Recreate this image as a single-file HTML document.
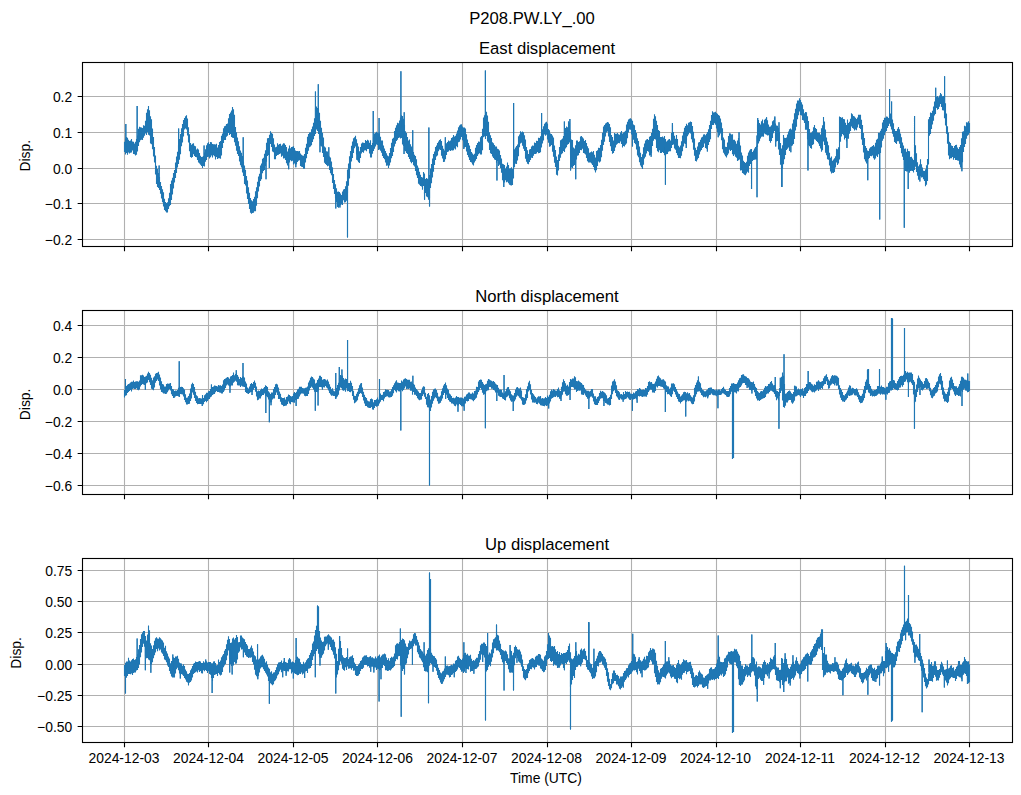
<!DOCTYPE html>
<html lang="en"><head><meta charset="utf-8"><title>P208.PW.LY_.00</title>
<style>html,body{margin:0;padding:0;background:#fff;overflow:hidden;width:1021px;height:795px;font-family:"Liberation Sans",sans-serif}svg{display:block}</style>
</head><body>
<svg width="1021" height="795" viewBox="0 0 1021 795">
<rect width="1021" height="795" fill="#fff"/>
<path d="M124.5 62.5V246.5M208.5 62.5V246.5M293.5 62.5V246.5M377.5 62.5V246.5M462.5 62.5V246.5M547.5 62.5V246.5M631.5 62.5V246.5M716.5 62.5V246.5M800.5 62.5V246.5M885.5 62.5V246.5M969.5 62.5V246.5M82.5 239.5H1012.5M82.5 203.5H1012.5M82.5 168.5H1012.5M82.5 132.5H1012.5M82.5 96.5H1012.5" stroke="#b0b0b0" stroke-width="1.111" fill="none"/>
<path d="M124.5 141.8V151.9M125.5 138.4V154.4M126.5 137.0V152.9M127.5 137.7V154.8M128.5 139.8V152.5M129.5 140.9V153.6M130.5 140.6V152.7M131.5 139.0V152.4M132.5 141.5V150.6M133.5 141.7V154.0M134.5 143.4V154.3M135.5 141.8V155.4M136.5 138.9V154.8M137.5 135.4V151.4M138.5 128.8V146.0M139.5 126.8V142.2M140.5 127.3V140.2M141.5 127.6V139.8M142.5 128.0V140.0M143.5 125.2V137.7M144.5 125.7V135.7M145.5 120.7V133.4M146.5 112.8V135.0M147.5 109.2V132.2M148.5 105.9V134.8M149.5 110.3V135.5M150.5 116.2V143.6M151.5 119.2V144.3M152.5 128.5V149.3M153.5 137.1V156.6M154.5 146.9V162.6M155.5 155.4V174.4M156.5 165.7V183.9M157.5 168.9V186.9M158.5 173.0V188.1M159.5 176.9V190.1M160.5 182.0V193.8M161.5 186.0V198.5M162.5 189.2V202.3M163.5 192.3V206.4M164.5 198.8V209.9M165.5 202.0V211.3M166.5 203.1V212.6M167.5 202.2V212.6M168.5 198.3V209.1M169.5 192.7V206.3M170.5 184.1V205.1M171.5 180.5V199.9M172.5 177.7V194.5M173.5 173.0V188.6M174.5 170.1V182.4M175.5 162.5V178.0M176.5 156.6V172.9M177.5 151.8V167.5M178.5 145.3V163.9M179.5 139.1V159.7M180.5 133.9V154.3M181.5 128.2V146.2M182.5 124.0V142.6M183.5 119.9V136.6M184.5 117.9V129.5M185.5 116.3V128.5M186.5 115.2V129.5M187.5 118.6V135.6M188.5 127.3V142.4M189.5 134.3V151.2M190.5 143.0V157.0M191.5 144.7V157.7M192.5 143.7V157.1M193.5 143.2V154.2M194.5 145.8V156.0M195.5 146.2V156.9M196.5 149.5V157.3M197.5 148.6V160.0M198.5 149.4V162.5M199.5 152.9V163.5M200.5 155.8V164.7M201.5 157.1V166.0M202.5 156.8V167.9M203.5 155.9V166.1M204.5 152.5V166.4M205.5 149.3V161.8M206.5 145.3V160.1M207.5 143.2V157.1M208.5 142.2V156.8M209.5 144.0V158.4M210.5 142.0V157.2M211.5 142.3V155.6M212.5 144.0V157.4M213.5 144.3V155.2M214.5 144.2V156.2M215.5 144.6V159.5M216.5 143.8V157.0M217.5 147.4V158.9M218.5 145.0V158.3M219.5 142.0V158.3M220.5 141.1V158.7M221.5 135.7V155.4M222.5 133.5V148.0M223.5 128.3V143.1M224.5 126.2V140.0M225.5 125.8V140.0M226.5 123.9V136.7M227.5 123.4V135.8M228.5 118.3V133.0M229.5 114.1V135.1M230.5 112.6V134.0M231.5 110.6V137.1M232.5 106.9V137.8M233.5 109.2V137.9M234.5 114.7V142.3M235.5 127.1V145.8M236.5 132.3V150.7M237.5 137.6V153.9M238.5 141.2V155.9M239.5 146.2V161.6M240.5 150.5V165.2M241.5 152.7V167.5M242.5 156.1V172.4M243.5 161.6V176.0M244.5 165.6V184.1M245.5 169.7V185.6M246.5 176.1V193.6M247.5 180.5V199.0M248.5 187.3V204.1M249.5 192.7V209.0M250.5 197.9V212.8M251.5 200.2V213.8M252.5 201.2V213.0M253.5 199.0V212.8M254.5 196.8V211.2M255.5 191.3V211.2M256.5 187.2V205.8M257.5 181.7V198.3M258.5 176.5V191.5M259.5 173.7V186.5M260.5 165.6V181.1M261.5 163.4V179.3M262.5 158.7V173.3M263.5 157.8V171.1M264.5 153.7V169.9M265.5 150.2V165.9M266.5 142.7V161.7M267.5 138.2V156.1M268.5 138.1V154.9M269.5 134.7V149.4M270.5 131.2V143.9M271.5 133.0V147.1M272.5 133.8V151.6M273.5 138.3V152.3M274.5 144.6V159.2M275.5 147.3V159.3M276.5 146.7V156.1M277.5 143.3V155.0M278.5 144.7V154.7M279.5 144.1V153.9M280.5 143.8V153.6M281.5 145.7V156.8M282.5 144.4V155.8M283.5 143.3V158.5M284.5 143.6V158.3M285.5 145.0V159.9M286.5 147.0V163.3M287.5 151.5V165.5M288.5 148.4V162.8M289.5 145.4V162.5M290.5 148.3V160.2M291.5 147.1V161.3M292.5 146.7V160.7M293.5 146.2V164.4M294.5 147.9V163.6M295.5 150.6V164.7M296.5 151.1V164.3M297.5 151.1V162.1M298.5 151.2V160.7M299.5 151.1V160.3M300.5 153.4V165.9M301.5 154.7V166.8M302.5 155.4V167.0M303.5 155.7V168.7M304.5 154.0V168.8M305.5 147.8V162.4M306.5 143.8V158.3M307.5 136.8V154.0M308.5 134.0V150.7M309.5 132.4V147.3M310.5 132.2V146.4M311.5 129.2V145.2M312.5 126.6V141.9M313.5 122.8V139.3M314.5 118.3V136.0M315.5 107.9V134.1M316.5 106.5V129.5M317.5 107.9V130.9M318.5 108.4V134.1M319.5 112.7V138.8M320.5 120.7V145.7M321.5 127.7V146.6M322.5 132.8V152.9M323.5 137.4V157.0M324.5 146.4V162.8M325.5 147.6V163.9M326.5 151.3V165.1M327.5 151.5V166.2M328.5 155.3V165.8M329.5 156.4V169.9M330.5 157.6V173.3M331.5 161.5V175.3M332.5 167.2V183.1M333.5 174.0V189.1M334.5 180.1V193.9M335.5 184.3V198.4M336.5 188.3V202.2M337.5 191.8V206.9M338.5 191.5V207.7M339.5 191.9V206.6M340.5 193.4V205.3M341.5 194.9V204.4M342.5 191.4V205.1M343.5 189.5V200.3M344.5 189.0V202.5M345.5 186.2V202.3M346.5 181.3V200.7M347.5 169.4V193.1M348.5 163.5V185.7M349.5 156.3V178.4M350.5 150.9V168.9M351.5 145.8V161.5M352.5 141.5V157.9M353.5 138.2V153.1M354.5 137.3V148.2M355.5 135.7V146.6M356.5 139.3V154.4M357.5 143.3V160.4M358.5 146.4V161.9M359.5 151.2V162.4M360.5 147.0V157.9M361.5 143.6V153.4M362.5 142.6V151.9M363.5 142.7V152.8M364.5 143.1V150.6M365.5 139.9V150.3M366.5 141.0V151.3M367.5 139.8V149.0M368.5 140.4V148.9M369.5 142.8V153.5M370.5 140.2V157.6M371.5 145.1V157.5M372.5 143.1V153.7M373.5 136.8V151.1M374.5 133.5V148.7M375.5 132.7V146.6M376.5 131.8V144.6M377.5 132.5V145.1M378.5 133.2V150.0M379.5 133.2V149.6M380.5 136.7V150.7M381.5 140.5V152.8M382.5 140.6V156.1M383.5 145.4V158.0M384.5 148.6V159.3M385.5 150.9V162.6M386.5 153.3V165.8M387.5 155.6V165.5M388.5 156.3V168.0M389.5 153.0V165.6M390.5 147.9V162.6M391.5 142.7V158.2M392.5 138.8V155.9M393.5 137.7V151.9M394.5 131.0V146.6M395.5 127.8V143.7M396.5 125.3V141.1M397.5 122.8V139.7M398.5 123.3V137.9M399.5 120.5V137.6M400.5 117.5V138.5M401.5 115.3V138.1M402.5 116.1V144.5M403.5 118.7V146.1M404.5 124.8V150.6M405.5 131.2V151.3M406.5 133.0V153.1M407.5 137.1V154.0M408.5 140.5V157.0M409.5 139.5V158.9M410.5 144.3V161.8M411.5 146.5V163.2M412.5 149.6V161.9M413.5 152.1V165.3M414.5 154.7V166.4M415.5 155.9V171.1M416.5 159.2V175.2M417.5 165.5V178.1M418.5 167.8V183.7M419.5 171.7V184.8M420.5 174.7V186.1M421.5 177.1V186.5M422.5 177.4V189.8M423.5 172.0V186.1M424.5 173.6V194.6M425.5 179.1V192.9M426.5 178.1V196.4M427.5 178.7V197.2M428.5 179.5V199.8M429.5 174.9V197.9M430.5 168.7V188.1M431.5 163.9V183.2M432.5 158.5V177.6M433.5 153.9V171.8M434.5 151.4V165.1M435.5 147.1V160.0M436.5 145.5V156.4M437.5 143.0V155.5M438.5 141.4V151.3M439.5 139.9V149.5M440.5 139.3V150.0M441.5 141.0V155.7M442.5 145.8V158.4M443.5 148.8V161.9M444.5 150.6V161.7M445.5 143.3V159.2M446.5 143.3V154.9M447.5 142.1V152.0M448.5 140.6V151.5M449.5 141.2V150.2M450.5 140.4V151.1M451.5 138.1V150.2M452.5 137.3V150.4M453.5 134.9V150.2M454.5 136.5V148.4M455.5 135.7V149.6M456.5 133.4V146.3M457.5 130.5V147.2M458.5 127.2V142.2M459.5 125.4V141.8M460.5 124.4V139.4M461.5 124.2V137.0M462.5 126.4V140.2M463.5 127.4V141.6M464.5 127.5V147.5M465.5 128.5V146.9M466.5 134.2V151.4M467.5 139.5V155.0M468.5 143.1V157.3M469.5 145.4V160.0M470.5 148.9V162.0M471.5 152.0V162.5M472.5 153.4V164.4M473.5 154.8V165.6M474.5 153.7V162.4M475.5 147.8V160.7M476.5 144.9V159.0M477.5 142.9V156.0M478.5 141.6V154.2M479.5 141.8V153.3M480.5 137.2V154.4M481.5 136.0V154.5M482.5 128.8V150.2M483.5 117.6V137.2M484.5 115.2V136.5M485.5 113.5V138.9M486.5 111.7V136.0M487.5 115.6V141.4M488.5 121.8V142.7M489.5 132.2V150.0M490.5 135.3V153.2M491.5 138.0V154.1M492.5 142.2V156.5M493.5 143.3V158.0M494.5 144.9V159.5M495.5 146.6V160.0M496.5 146.4V162.7M497.5 148.7V160.9M498.5 149.2V166.0M499.5 150.5V164.8M500.5 154.9V167.9M501.5 158.5V172.7M502.5 163.7V180.2M503.5 164.3V182.5M504.5 165.1V182.6M505.5 168.5V180.3M506.5 166.5V182.3M507.5 162.5V181.8M508.5 164.9V183.2M509.5 168.4V184.8M510.5 168.2V185.3M511.5 167.3V185.5M512.5 168.9V185.0M513.5 158.7V178.5M514.5 149.2V167.0M515.5 147.4V163.7M516.5 146.1V164.0M517.5 144.4V160.5M518.5 136.2V156.3M519.5 134.6V147.2M520.5 131.2V143.5M521.5 132.3V142.7M522.5 131.4V145.8M523.5 132.3V148.8M524.5 135.3V151.0M525.5 139.4V158.8M526.5 147.1V161.8M527.5 150.3V163.7M528.5 154.0V164.2M529.5 149.4V161.9M530.5 149.0V159.9M531.5 146.5V157.7M532.5 145.5V157.9M533.5 145.7V155.8M534.5 142.6V153.9M535.5 143.1V153.9M536.5 140.7V153.5M537.5 141.0V151.9M538.5 137.8V153.3M539.5 138.0V153.1M540.5 136.2V152.3M541.5 133.0V147.6M542.5 129.3V143.5M543.5 126.2V140.6M544.5 123.7V134.6M545.5 122.4V135.7M546.5 121.8V134.7M547.5 123.6V139.4M548.5 129.1V142.7M549.5 130.2V146.7M550.5 133.5V146.2M551.5 134.1V145.0M552.5 135.6V151.7M553.5 137.4V156.8M554.5 145.4V162.8M555.5 149.9V166.9M556.5 156.5V174.8M557.5 159.9V175.4M558.5 154.5V170.4M559.5 147.0V161.0M560.5 140.3V157.8M561.5 139.6V154.3M562.5 138.6V153.2M563.5 136.0V151.1M564.5 136.0V152.1M565.5 128.1V148.6M566.5 126.6V147.2M567.5 127.3V144.8M568.5 121.3V144.0M569.5 122.5V142.5M570.5 131.2V154.7M571.5 139.6V167.6M572.5 140.0V168.1M573.5 147.5V166.0M574.5 148.5V165.0M575.5 145.2V163.6M576.5 140.5V159.6M577.5 140.5V155.8M578.5 142.1V155.3M579.5 141.3V153.1M580.5 136.5V150.1M581.5 135.9V150.2M582.5 137.3V148.7M583.5 138.5V152.9M584.5 141.1V153.5M585.5 139.9V154.4M586.5 143.1V157.9M587.5 146.2V161.2M588.5 148.3V162.6M589.5 152.8V162.4M590.5 152.3V162.4M591.5 151.5V163.6M592.5 152.2V165.0M593.5 151.1V167.1M594.5 154.8V170.3M595.5 157.4V172.5M596.5 151.1V170.3M597.5 150.2V166.1M598.5 147.7V161.5M599.5 148.1V162.6M600.5 145.1V161.4M601.5 139.7V157.3M602.5 132.7V150.7M603.5 126.6V145.1M604.5 125.0V141.8M605.5 123.6V136.6M606.5 122.7V132.5M607.5 122.1V131.4M608.5 122.6V136.4M609.5 123.9V142.1M610.5 127.2V146.2M611.5 135.1V150.9M612.5 137.0V153.8M613.5 140.5V153.1M614.5 133.0V151.1M615.5 133.8V147.6M616.5 133.7V144.8M617.5 133.1V143.7M618.5 134.2V143.1M619.5 134.8V143.2M620.5 132.5V141.6M621.5 131.1V144.1M622.5 133.6V147.6M623.5 132.6V146.0M624.5 131.7V146.6M625.5 130.7V144.8M626.5 124.4V143.5M627.5 121.8V138.3M628.5 119.5V132.5M629.5 118.8V129.5M630.5 118.3V129.7M631.5 119.2V134.6M632.5 120.7V140.7M633.5 124.4V139.7M634.5 125.2V143.0M635.5 130.0V144.2M636.5 132.9V149.6M637.5 138.2V155.4M638.5 141.1V157.3M639.5 146.6V162.3M640.5 152.8V165.4M641.5 157.1V167.3M642.5 154.3V168.9M643.5 147.2V164.7M644.5 143.4V158.4M645.5 140.5V156.7M646.5 139.6V153.6M647.5 139.1V150.9M648.5 139.9V151.7M649.5 136.7V155.5M650.5 136.0V155.1M651.5 133.1V152.9M652.5 128.7V146.1M653.5 118.8V140.8M654.5 114.3V139.1M655.5 116.3V139.6M656.5 120.7V147.9M657.5 124.9V151.3M658.5 130.1V152.2M659.5 131.0V150.2M660.5 136.9V152.9M661.5 137.1V152.9M662.5 136.5V152.0M663.5 137.5V153.0M664.5 136.0V155.3M665.5 139.0V154.8M666.5 141.4V154.2M667.5 140.5V153.9M668.5 139.5V151.7M669.5 139.0V151.2M670.5 140.4V151.2M671.5 132.9V147.9M672.5 125.3V145.0M673.5 132.0V144.6M674.5 135.8V148.5M675.5 138.8V149.8M676.5 135.1V153.0M677.5 139.0V155.3M678.5 145.7V158.1M679.5 147.3V158.0M680.5 145.5V158.2M681.5 141.2V155.8M682.5 135.5V151.2M683.5 131.7V146.4M684.5 127.7V143.4M685.5 126.0V144.0M686.5 123.8V140.2M687.5 125.3V136.3M688.5 122.8V134.4M689.5 122.2V132.7M690.5 121.4V133.6M691.5 121.9V139.2M692.5 126.0V142.4M693.5 131.7V149.7M694.5 138.5V155.7M695.5 147.7V161.1M696.5 150.0V161.5M697.5 146.4V159.6M698.5 142.5V157.9M699.5 142.0V154.6M700.5 139.7V151.4M701.5 137.6V150.0M702.5 136.7V148.0M703.5 134.6V147.0M704.5 134.3V143.6M705.5 135.3V147.9M706.5 133.8V148.8M707.5 132.0V147.0M708.5 129.3V145.1M709.5 124.9V142.1M710.5 120.7V139.2M711.5 115.0V129.1M712.5 111.2V125.0M713.5 112.6V124.9M714.5 112.3V123.2M715.5 111.8V124.7M716.5 113.1V128.4M717.5 113.7V131.9M718.5 115.0V132.5M719.5 115.8V135.4M720.5 118.6V133.5M721.5 122.5V140.2M722.5 128.2V149.3M723.5 137.6V152.7M724.5 139.5V154.6M725.5 146.8V156.3M726.5 146.9V157.4M727.5 142.5V155.2M728.5 135.9V153.5M729.5 133.2V149.8M730.5 133.5V151.1M731.5 134.6V149.9M732.5 134.2V154.3M733.5 139.8V156.0M734.5 139.8V154.4M735.5 141.3V156.7M736.5 143.7V157.8M737.5 140.6V161.0M738.5 138.1V160.3M739.5 142.3V159.4M740.5 145.6V170.5M741.5 152.5V170.3M742.5 155.4V173.0M743.5 160.7V173.8M744.5 162.1V174.7M745.5 162.9V175.2M746.5 161.7V173.4M747.5 155.7V171.7M748.5 152.6V172.8M749.5 150.6V165.9M750.5 149.3V164.1M751.5 149.0V161.5M752.5 152.1V161.1M753.5 150.4V159.9M754.5 148.5V159.8M755.5 147.1V159.4M756.5 145.8V159.4M757.5 124.3V147.0M758.5 120.0V143.6M759.5 123.1V141.2M760.5 124.6V138.4M761.5 121.2V136.8M762.5 119.5V136.4M763.5 123.3V136.7M764.5 119.8V133.6M765.5 118.8V134.2M766.5 118.3V134.7M767.5 120.2V135.6M768.5 124.5V135.3M769.5 126.8V141.0M770.5 126.4V142.7M771.5 125.3V141.0M772.5 121.3V138.0M773.5 120.2V133.2M774.5 117.7V130.9M775.5 123.5V140.6M776.5 125.6V141.6M777.5 125.8V141.0M778.5 127.8V149.5M779.5 132.1V154.9M780.5 143.1V164.8M781.5 148.6V168.7M782.5 145.3V168.4M783.5 134.9V164.3M784.5 137.8V159.2M785.5 137.9V155.1M786.5 137.5V150.0M787.5 134.4V148.7M788.5 131.6V147.5M789.5 129.2V151.1M790.5 128.5V145.1M791.5 129.4V145.9M792.5 123.5V145.6M793.5 119.6V144.1M794.5 113.3V139.1M795.5 108.8V130.4M796.5 103.6V126.8M797.5 100.5V119.3M798.5 100.6V115.2M799.5 98.3V111.6M800.5 99.9V115.1M801.5 102.3V115.4M802.5 104.6V119.9M803.5 109.3V120.5M804.5 113.3V122.9M805.5 112.1V129.7M806.5 112.3V129.7M807.5 116.3V139.6M808.5 121.0V145.3M809.5 129.0V146.2M810.5 133.0V147.9M811.5 132.6V148.7M812.5 131.3V145.0M813.5 127.3V144.2M814.5 125.0V139.3M815.5 127.9V139.8M816.5 128.9V141.0M817.5 132.5V142.1M818.5 132.8V143.6M819.5 132.7V146.1M820.5 134.4V148.5M821.5 128.2V151.8M822.5 125.2V150.3M823.5 117.0V141.5M824.5 121.4V145.1M825.5 129.5V152.8M826.5 137.4V155.2M827.5 141.6V159.2M828.5 145.2V159.8M829.5 152.7V165.5M830.5 157.8V171.6M831.5 156.5V173.5M832.5 160.8V172.8M833.5 159.5V173.0M834.5 158.3V172.1M835.5 156.2V167.6M836.5 148.7V162.5M837.5 149.2V165.1M838.5 147.3V163.5M839.5 116.4V159.6M840.5 117.1V141.8M841.5 117.7V136.6M842.5 117.3V133.9M843.5 119.1V135.2M844.5 119.3V139.4M845.5 122.7V138.1M846.5 125.0V141.4M847.5 119.5V138.6M848.5 122.9V138.7M849.5 121.7V133.8M850.5 118.7V130.9M851.5 113.3V126.6M852.5 114.3V128.0M853.5 115.9V128.7M854.5 116.6V130.4M855.5 117.8V129.6M856.5 118.9V130.3M857.5 117.4V127.6M858.5 114.7V124.5M859.5 114.8V127.9M860.5 114.8V128.9M861.5 119.7V139.6M862.5 125.1V145.1M863.5 132.9V152.4M864.5 138.0V159.3M865.5 146.0V161.6M866.5 147.9V163.4M867.5 150.6V162.5M868.5 151.1V158.9M869.5 148.5V157.9M870.5 147.2V155.9M871.5 146.8V156.2M872.5 145.9V155.5M873.5 144.9V158.2M874.5 146.4V159.8M875.5 142.8V158.4M876.5 139.7V155.8M877.5 138.7V156.9M878.5 132.7V154.2M879.5 132.8V154.8M880.5 130.7V153.1M881.5 128.7V147.5M882.5 122.6V140.8M883.5 120.0V138.7M884.5 117.8V135.3M885.5 117.7V132.4M886.5 116.6V131.1M887.5 116.7V128.1M888.5 118.1V126.0M889.5 114.5V123.7M890.5 113.5V126.5M891.5 115.7V129.4M892.5 119.6V133.7M893.5 123.2V136.8M894.5 129.1V141.9M895.5 131.0V143.1M896.5 131.1V143.9M897.5 128.7V141.2M898.5 127.1V141.3M899.5 129.3V143.8M900.5 133.4V148.1M901.5 137.2V153.3M902.5 142.6V156.8M903.5 145.6V160.0M904.5 148.7V165.4M905.5 148.6V171.1M906.5 151.7V171.5M907.5 148.7V171.6M908.5 150.9V169.4M909.5 151.2V172.8M910.5 157.0V171.1M911.5 156.7V170.8M912.5 158.6V171.0M913.5 160.1V172.5M914.5 154.1V170.1M915.5 145.2V166.7M916.5 153.2V172.1M917.5 162.2V175.8M918.5 166.2V179.8M919.5 164.6V179.4M920.5 159.2V176.3M921.5 164.2V177.4M922.5 167.6V177.3M923.5 170.8V179.2M924.5 170.9V181.0M925.5 169.3V186.2M926.5 165.3V184.8M927.5 159.1V180.9M928.5 119.3V164.4M929.5 117.0V135.8M930.5 112.4V133.9M931.5 113.1V128.9M932.5 110.7V124.5M933.5 106.6V120.7M934.5 101.6V115.6M935.5 98.8V113.9M936.5 97.0V108.0M937.5 96.0V109.7M938.5 97.2V108.9M939.5 95.6V106.7M940.5 93.0V104.0M941.5 94.2V107.1M942.5 96.3V110.2M943.5 96.1V110.6M944.5 94.6V118.2M945.5 103.3V125.5M946.5 113.5V133.7M947.5 126.2V143.7M948.5 132.6V155.6M949.5 141.8V159.2M950.5 143.0V158.2M951.5 145.6V158.3M952.5 146.1V156.9M953.5 148.1V159.8M954.5 146.1V158.0M955.5 145.0V159.9M956.5 144.7V160.0M957.5 147.6V160.5M958.5 149.0V160.8M959.5 146.9V164.4M960.5 145.1V167.6M961.5 138.3V168.1M962.5 131.7V162.3M963.5 131.2V151.9M964.5 125.8V146.9M965.5 126.3V144.1M966.5 122.3V138.8M967.5 122.6V135.7M968.5 121.3V134.8M969.5 122.9V132.9" stroke="#1f77b4" stroke-width="1.10" fill="none" stroke-linejoin="round"/>
<path d="M125.83 124.0V146.4M137.15 106.1V143.4M159.13 165.6V183.5M178.61 128.6V154.6M204.08 145.6V159.4M243.21 137.3V168.8M266.02 179.2V152.2M269.35 168.1V142.1M288.66 169.2V155.6M295.82 167.3V157.6M315.47 91.5V121.0M318.30 84.3V121.2M319.97 152.3V125.8M328.79 147.3V160.6M335.78 208.5V191.4M339.95 207.5V199.2M356.93 159.8V146.9M359.43 163.1V156.8M373.25 111.1V143.9M379.07 118.1V141.4M404.21 112.3V137.7M404.05 153.9V137.7M412.71 130.3V155.8M424.53 199.7V184.1M428.86 127.6V189.7M429.52 206.4V186.4M445.34 137.3V151.2M463.82 148.9V134.5M496.95 180.6V154.5M503.78 186.9V173.4M513.60 103.1V168.6M541.58 113.1V140.3M564.39 121.5V144.0M569.88 119.0V132.5M570.55 170.6V142.9M575.71 179.2V154.4M632.48 146.4V130.7M651.13 156.8V143.0M665.45 184.7V146.9M672.44 123.1V135.2M686.26 148.1V132.0M707.41 151.4V139.5M718.23 137.3V123.8M739.04 132.3V150.8M751.53 188.9V155.2M757.02 197.2V135.6M757.69 118.1V135.6M766.52 117.3V126.5M774.84 116.5V124.3M775.67 146.4V132.1M779.00 122.3V143.5M782.00 186.9V158.7M781.67 186.9V158.7M790.82 152.3V136.8M807.97 170.6V128.0M846.93 148.1V133.2M867.75 180.2V156.5M889.56 89.0V119.1M891.56 101.5V122.5M908.21 188.9V160.2M914.53 116.0V162.1M919.86 181.4V172.0M935.68 87.7V106.3M944.57 76.3V106.4M961.89 171.2V153.2M347.50 237.5V181.3M400.90 71.3V128.0M485.40 70.6V126.2M879.70 219.5V143.8M904.30 227.7V157.1" stroke="#1f77b4" stroke-width="1.10" fill="none"/>
<path d="M125.83 124.0V146.4M137.15 106.1V143.4M159.13 165.6V183.5M178.61 128.6V154.6M204.08 145.6V159.4M243.21 137.3V168.8M266.02 179.2V152.2M269.35 168.1V142.1M288.66 169.2V155.6M295.82 167.3V157.6M315.47 91.5V121.0M318.30 84.3V121.2M319.97 152.3V125.8M328.79 147.3V160.6M335.78 208.5V191.4M339.95 207.5V199.2M356.93 159.8V146.9M359.43 163.1V156.8M373.25 111.1V143.9M379.07 118.1V141.4M404.21 112.3V137.7M404.05 153.9V137.7M412.71 130.3V155.8M424.53 199.7V184.1M428.86 127.6V189.7M429.52 206.4V186.4M445.34 137.3V151.2M463.82 148.9V134.5M496.95 180.6V154.5M503.78 186.9V173.4M513.60 103.1V168.6M541.58 113.1V140.3M564.39 121.5V144.0M569.88 119.0V132.5M570.55 170.6V142.9M575.71 179.2V154.4M632.48 146.4V130.7M651.13 156.8V143.0M665.45 184.7V146.9M672.44 123.1V135.2M686.26 148.1V132.0M707.41 151.4V139.5M718.23 137.3V123.8M739.04 132.3V150.8M751.53 188.9V155.2M757.02 197.2V135.6M757.69 118.1V135.6M766.52 117.3V126.5M774.84 116.5V124.3M775.67 146.4V132.1M779.00 122.3V143.5M782.00 186.9V158.7M781.67 186.9V158.7M790.82 152.3V136.8M807.97 170.6V128.0M846.93 148.1V133.2M867.75 180.2V156.5M889.56 89.0V119.1M891.56 101.5V122.5M908.21 188.9V160.2M914.53 116.0V162.1M919.86 181.4V172.0M935.68 87.7V106.3M944.57 76.3V106.4M961.89 171.2V153.2M347.50 237.5V181.3M400.90 71.3V128.0M485.40 70.6V126.2M879.70 219.5V143.8M904.30 227.7V157.1" stroke="#1f77b4" stroke-width="1.10" fill="none"/>
<path d="M124.5 246.5v4.86M208.5 246.5v4.86M293.5 246.5v4.86M377.5 246.5v4.86M462.5 246.5v4.86M547.5 246.5v4.86M631.5 246.5v4.86M716.5 246.5v4.86M800.5 246.5v4.86M885.5 246.5v4.86M969.5 246.5v4.86M82.5 239.5h-4.86M82.5 203.5h-4.86M82.5 168.5h-4.86M82.5 132.5h-4.86M82.5 96.5h-4.86" stroke="#000" stroke-width="1.111" fill="none"/>
<rect x="82.5" y="62.5" width="930" height="184" stroke="#000" stroke-width="1.111" fill="none"/>
<path d="M124.5 310.5V494.5M208.5 310.5V494.5M293.5 310.5V494.5M377.5 310.5V494.5M462.5 310.5V494.5M547.5 310.5V494.5M631.5 310.5V494.5M716.5 310.5V494.5M800.5 310.5V494.5M885.5 310.5V494.5M969.5 310.5V494.5M82.5 485.5H1012.5M82.5 453.5H1012.5M82.5 421.5H1012.5M82.5 389.5H1012.5M82.5 357.5H1012.5M82.5 325.5H1012.5" stroke="#b0b0b0" stroke-width="1.111" fill="none"/>
<path d="M124.5 390.1V397.5M125.5 386.2V395.7M126.5 385.9V395.2M127.5 384.8V392.9M128.5 383.9V392.1M129.5 383.6V391.1M130.5 382.4V389.9M131.5 381.7V391.6M132.5 381.7V389.0M133.5 380.5V388.4M134.5 381.9V388.9M135.5 381.6V389.0M136.5 381.2V388.2M137.5 381.2V389.7M138.5 381.8V390.2M139.5 380.6V389.5M140.5 375.2V386.6M141.5 375.2V385.0M142.5 374.8V383.9M143.5 375.5V384.4M144.5 376.9V385.1M145.5 376.4V385.2M146.5 375.8V383.3M147.5 373.6V382.4M148.5 371.8V380.0M149.5 373.0V382.2M150.5 374.8V385.0M151.5 377.8V388.7M152.5 380.3V389.4M153.5 377.4V390.2M154.5 376.2V387.5M155.5 373.7V382.7M156.5 372.9V380.9M157.5 372.8V379.6M158.5 371.8V381.0M159.5 374.6V385.5M160.5 377.5V389.3M161.5 381.2V392.1M162.5 383.9V392.5M163.5 384.5V393.4M164.5 386.6V393.4M165.5 386.4V394.1M166.5 383.9V393.8M167.5 383.4V392.3M168.5 383.7V390.6M169.5 383.6V389.1M170.5 383.0V390.4M171.5 386.1V394.3M172.5 389.1V395.9M173.5 389.4V397.9M174.5 391.1V397.8M175.5 390.4V396.6M176.5 390.8V395.9M177.5 389.9V396.1M178.5 387.8V396.4M179.5 386.2V396.9M180.5 386.9V394.0M181.5 386.8V394.3M182.5 386.9V394.6M183.5 388.2V396.5M184.5 389.4V400.0M185.5 394.3V402.2M186.5 397.7V404.5M187.5 397.6V404.5M188.5 395.9V403.9M189.5 393.5V403.8M190.5 388.6V401.1M191.5 384.3V398.6M192.5 382.7V392.6M193.5 384.1V394.8M194.5 386.9V398.0M195.5 391.8V401.0M196.5 395.2V403.0M197.5 396.3V404.2M198.5 398.2V404.0M199.5 398.0V403.9M200.5 398.3V404.1M201.5 398.4V403.9M202.5 394.9V404.4M203.5 398.0V404.3M204.5 395.3V401.9M205.5 394.3V401.1M206.5 392.7V402.2M207.5 392.8V401.1M208.5 391.2V399.5M209.5 391.1V398.9M210.5 389.0V397.3M211.5 387.2V396.4M212.5 387.0V395.0M213.5 386.6V394.2M214.5 385.6V394.0M215.5 385.8V392.3M216.5 386.1V391.1M217.5 386.5V392.1M218.5 384.9V391.9M219.5 385.5V392.6M220.5 385.2V392.8M221.5 386.1V393.5M222.5 384.4V393.5M223.5 380.2V392.1M224.5 379.1V390.4M225.5 378.5V387.9M226.5 377.8V385.4M227.5 377.1V384.4M228.5 377.4V385.6M229.5 378.7V386.2M230.5 376.4V386.6M231.5 375.9V385.6M232.5 374.9V385.4M233.5 372.5V382.8M234.5 375.3V381.8M235.5 374.1V380.7M236.5 372.7V381.7M237.5 374.9V385.2M238.5 376.7V385.5M239.5 379.1V385.6M240.5 376.9V387.0M241.5 378.1V385.7M242.5 376.8V386.4M243.5 376.4V386.7M244.5 377.5V387.1M245.5 381.6V392.0M246.5 383.4V392.9M247.5 387.6V393.6M248.5 388.5V393.9M249.5 386.4V392.9M250.5 384.1V392.3M251.5 383.1V391.9M252.5 383.9V391.8M253.5 382.0V389.8M254.5 380.6V388.1M255.5 382.7V391.7M256.5 386.6V396.5M257.5 391.3V400.3M258.5 390.6V399.8M259.5 390.9V398.5M260.5 389.8V398.6M261.5 388.6V396.2M262.5 388.9V394.9M263.5 388.3V394.9M264.5 387.0V393.6M265.5 385.3V395.7M266.5 385.9V396.3M267.5 386.9V397.2M268.5 391.2V399.6M269.5 392.5V403.1M270.5 393.9V402.5M271.5 392.6V402.2M272.5 392.5V399.5M273.5 389.0V398.5M274.5 386.9V398.5M275.5 384.3V395.1M276.5 383.7V392.6M277.5 384.4V395.1M278.5 387.6V398.9M279.5 391.6V399.1M280.5 393.7V401.7M281.5 397.2V404.4M282.5 398.1V405.0M283.5 398.1V406.2M284.5 397.6V406.1M285.5 399.5V405.7M286.5 397.1V405.4M287.5 396.6V403.9M288.5 394.5V401.6M289.5 395.0V403.6M290.5 395.9V404.3M291.5 396.4V402.1M292.5 396.0V402.3M293.5 393.5V402.5M294.5 392.0V402.7M295.5 393.0V400.0M296.5 391.8V400.6M297.5 389.5V398.9M298.5 388.7V398.8M299.5 386.8V396.5M300.5 386.8V394.6M301.5 386.7V393.5M302.5 388.1V393.5M303.5 388.2V393.7M304.5 388.2V395.7M305.5 387.7V396.3M306.5 387.5V396.1M307.5 386.4V395.9M308.5 382.6V394.0M309.5 380.5V390.6M310.5 377.7V388.0M311.5 376.5V386.7M312.5 376.9V387.8M313.5 378.4V389.4M314.5 379.4V391.7M315.5 383.6V392.3M316.5 382.7V392.0M317.5 380.0V392.3M318.5 378.4V390.5M319.5 375.8V387.1M320.5 375.8V386.9M321.5 376.9V387.3M322.5 379.8V388.8M323.5 379.2V387.3M324.5 379.1V387.5M325.5 379.6V385.9M326.5 380.5V387.4M327.5 379.5V388.4M328.5 381.4V390.4M329.5 384.2V392.9M330.5 386.7V394.5M331.5 389.2V395.8M332.5 388.3V395.4M333.5 390.5V396.0M334.5 391.3V396.0M335.5 391.7V397.9M336.5 387.9V397.4M337.5 384.9V396.5M338.5 382.8V394.8M339.5 377.6V390.5M340.5 375.0V387.6M341.5 375.7V388.2M342.5 375.6V390.3M343.5 378.0V390.7M344.5 379.6V390.2M345.5 378.6V391.8M346.5 379.1V388.5M347.5 380.4V391.2M348.5 383.1V391.1M349.5 383.1V392.1M350.5 380.8V392.2M351.5 382.7V391.3M352.5 386.1V395.9M353.5 390.8V399.8M354.5 395.8V403.3M355.5 395.9V402.5M356.5 393.8V401.6M357.5 391.7V400.3M358.5 388.3V396.4M359.5 385.3V393.9M360.5 383.4V393.0M361.5 383.0V393.7M362.5 387.6V397.0M363.5 391.7V400.6M364.5 394.7V403.4M365.5 396.9V406.1M366.5 398.1V406.1M367.5 400.5V407.2M368.5 401.3V407.8M369.5 401.4V407.9M370.5 399.1V408.1M371.5 398.4V406.9M372.5 399.2V409.4M373.5 402.3V409.8M374.5 400.0V408.1M375.5 399.9V405.9M376.5 399.2V406.8M377.5 397.5V406.3M378.5 399.4V405.7M379.5 395.6V403.5M380.5 393.5V401.7M381.5 395.1V399.9M382.5 394.7V399.9M383.5 391.9V401.3M384.5 391.5V398.5M385.5 389.2V397.1M386.5 389.8V396.4M387.5 389.8V396.2M388.5 389.9V397.2M389.5 391.4V397.6M390.5 391.3V397.2M391.5 389.3V397.1M392.5 387.1V395.8M393.5 385.3V393.2M394.5 383.3V389.9M395.5 381.5V391.2M396.5 380.3V392.5M397.5 382.5V390.2M398.5 382.7V391.2M399.5 382.9V391.6M400.5 382.9V391.2M401.5 380.5V389.9M402.5 381.5V391.2M403.5 379.4V389.9M404.5 378.7V388.4M405.5 378.2V386.6M406.5 379.0V389.0M407.5 379.7V388.7M408.5 379.7V388.9M409.5 379.8V388.6M410.5 381.8V390.8M411.5 381.5V390.7M412.5 383.0V394.8M413.5 383.9V392.0M414.5 384.7V394.8M415.5 387.6V394.8M416.5 388.9V396.0M417.5 390.2V398.3M418.5 391.6V399.6M419.5 392.9V400.2M420.5 393.0V399.8M421.5 390.3V399.4M422.5 387.5V396.0M423.5 386.2V394.3M424.5 386.7V396.8M425.5 392.8V399.0M426.5 396.7V404.8M427.5 394.0V407.2M428.5 393.1V407.5M429.5 395.2V410.5M430.5 399.4V411.1M431.5 396.0V407.6M432.5 391.7V403.7M433.5 389.4V400.7M434.5 388.7V398.6M435.5 388.6V397.2M436.5 390.1V398.2M437.5 392.8V401.2M438.5 396.6V403.8M439.5 396.8V403.4M440.5 395.4V402.8M441.5 391.3V400.7M442.5 388.2V398.6M443.5 385.5V395.0M444.5 383.9V393.1M445.5 382.6V394.3M446.5 385.2V394.7M447.5 388.6V398.1M448.5 389.8V400.0M449.5 393.5V401.4M450.5 394.5V402.0M451.5 396.1V403.6M452.5 397.9V403.6M453.5 397.8V404.2M454.5 398.3V405.8M455.5 397.6V406.2M456.5 396.0V404.6M457.5 397.1V405.4M458.5 397.0V405.5M459.5 397.8V404.1M460.5 397.6V405.0M461.5 397.4V406.3M462.5 398.1V406.2M463.5 398.5V406.6M464.5 396.8V403.8M465.5 396.6V403.4M466.5 394.4V401.0M467.5 393.8V401.6M468.5 392.6V400.9M469.5 392.4V399.0M470.5 393.7V399.3M471.5 393.8V399.4M472.5 392.6V400.3M473.5 393.6V401.3M474.5 391.0V400.0M475.5 390.4V398.8M476.5 386.7V397.8M477.5 387.0V394.4M478.5 381.6V392.1M479.5 380.0V390.3M480.5 379.4V387.9M481.5 379.8V389.8M482.5 382.1V392.8M483.5 383.8V394.7M484.5 385.1V394.2M485.5 384.2V394.3M486.5 383.7V391.3M487.5 380.7V390.4M488.5 378.9V390.3M489.5 379.4V386.9M490.5 380.3V387.0M491.5 380.8V388.8M492.5 381.5V388.8M493.5 380.9V390.0M494.5 382.1V390.5M495.5 383.5V392.4M496.5 384.6V392.1M497.5 385.0V392.7M498.5 387.7V395.8M499.5 389.4V396.4M500.5 389.6V396.9M501.5 389.8V397.0M502.5 392.5V398.6M503.5 393.5V399.1M504.5 392.9V400.1M505.5 391.3V400.4M506.5 388.8V397.3M507.5 387.2V396.4M508.5 387.0V395.6M509.5 389.6V398.3M510.5 391.2V400.4M511.5 394.2V401.7M512.5 395.3V401.4M513.5 395.6V402.6M514.5 393.0V401.2M515.5 389.5V399.5M516.5 387.4V396.8M517.5 387.0V395.5M518.5 388.3V396.2M519.5 388.5V397.8M520.5 387.4V398.8M521.5 390.5V400.4M522.5 397.1V404.5M523.5 397.5V405.1M524.5 397.9V404.7M525.5 394.2V403.8M526.5 389.1V400.6M527.5 386.2V398.1M528.5 382.6V391.6M529.5 380.8V390.2M530.5 384.2V394.6M531.5 389.7V399.4M532.5 392.9V402.5M533.5 394.3V402.6M534.5 395.8V402.8M535.5 397.1V402.5M536.5 398.4V404.1M537.5 397.2V404.2M538.5 396.3V402.7M539.5 396.5V403.7M540.5 396.0V405.2M541.5 398.5V405.5M542.5 398.0V405.7M543.5 398.4V406.1M544.5 398.3V406.2M545.5 397.1V405.2M546.5 398.0V406.1M547.5 395.5V405.5M548.5 396.7V406.4M549.5 394.7V403.5M550.5 391.3V401.5M551.5 389.4V398.7M552.5 390.5V397.9M553.5 389.1V397.2M554.5 389.7V396.8M555.5 390.4V397.1M556.5 390.7V395.8M557.5 388.9V397.3M558.5 387.4V397.0M559.5 390.3V398.7M560.5 391.1V399.1M561.5 386.8V396.5M562.5 382.3V394.7M563.5 379.2V391.7M564.5 381.0V391.4M565.5 383.2V394.2M566.5 385.8V395.7M567.5 384.8V395.8M568.5 386.5V395.0M569.5 382.1V394.0M570.5 379.1V390.6M571.5 379.4V387.1M572.5 378.6V387.0M573.5 378.5V387.6M574.5 376.2V389.6M575.5 377.2V389.2M576.5 381.0V391.9M577.5 381.2V391.0M578.5 380.6V390.4M579.5 381.4V390.8M580.5 382.3V390.4M581.5 383.1V394.4M582.5 384.5V394.7M583.5 385.1V395.0M584.5 387.7V393.5M585.5 389.4V395.6M586.5 390.4V396.9M587.5 390.8V398.8M588.5 390.7V398.3M589.5 391.6V398.2M590.5 390.7V396.7M591.5 389.1V396.6M592.5 389.1V397.8M593.5 393.5V401.4M594.5 396.3V404.3M595.5 396.2V404.9M596.5 398.7V405.0M597.5 397.1V404.9M598.5 396.2V403.0M599.5 393.1V400.8M600.5 390.8V398.7M601.5 391.8V398.3M602.5 391.1V398.2M603.5 391.7V400.9M604.5 392.4V401.4M605.5 393.5V403.1M606.5 395.2V403.5M607.5 398.6V404.6M608.5 398.1V404.8M609.5 397.1V405.6M610.5 394.7V405.0M611.5 385.5V399.0M612.5 381.4V394.2M613.5 380.7V391.3M614.5 379.3V390.3M615.5 381.6V393.1M616.5 385.3V396.3M617.5 390.3V397.5M618.5 391.1V399.6M619.5 392.2V400.1M620.5 394.2V398.6M621.5 394.1V399.6M622.5 394.7V399.4M623.5 392.0V400.1M624.5 393.9V399.6M625.5 391.1V399.1M626.5 392.0V398.6M627.5 391.4V397.2M628.5 391.9V398.5M629.5 391.8V399.7M630.5 393.5V400.1M631.5 393.8V398.8M632.5 394.1V399.6M633.5 392.6V399.5M634.5 393.3V399.0M635.5 391.4V398.6M636.5 391.0V399.6M637.5 389.1V396.7M638.5 389.4V396.1M639.5 387.9V396.5M640.5 388.8V396.0M641.5 390.0V396.5M642.5 389.7V396.9M643.5 389.6V396.5M644.5 389.9V396.4M645.5 388.1V396.6M646.5 388.2V396.7M647.5 386.0V394.8M648.5 381.9V391.9M649.5 381.3V390.6M650.5 382.3V389.4M651.5 381.9V389.7M652.5 383.7V392.4M653.5 383.9V392.4M654.5 383.6V392.8M655.5 381.5V391.0M656.5 378.7V386.6M657.5 376.2V387.6M658.5 375.4V385.9M659.5 377.2V386.1M660.5 378.2V386.4M661.5 379.8V386.7M662.5 379.5V387.0M663.5 379.2V388.5M664.5 380.6V389.0M665.5 381.6V392.9M666.5 385.2V392.0M667.5 386.3V394.3M668.5 386.5V393.9M669.5 388.7V394.7M670.5 387.6V396.2M671.5 383.6V396.9M672.5 383.5V394.3M673.5 383.2V390.8M674.5 384.2V392.1M675.5 387.1V394.5M676.5 389.0V397.0M677.5 391.4V399.0M678.5 393.4V401.5M679.5 394.0V402.0M680.5 396.5V403.6M681.5 395.4V402.0M682.5 394.2V401.3M683.5 392.2V400.4M684.5 391.7V400.2M685.5 391.9V401.0M686.5 393.3V401.8M687.5 392.2V400.6M688.5 393.5V401.2M689.5 393.1V400.7M690.5 395.3V401.6M691.5 396.8V403.4M692.5 397.4V404.3M693.5 395.2V404.1M694.5 387.7V401.5M695.5 385.1V396.7M696.5 382.4V394.2M697.5 380.3V391.7M698.5 380.4V391.5M699.5 381.7V391.3M700.5 383.2V392.7M701.5 387.8V394.9M702.5 389.8V395.8M703.5 390.3V397.3M704.5 391.3V396.7M705.5 391.3V397.2M706.5 390.3V396.5M707.5 389.6V396.9M708.5 388.1V396.5M709.5 387.7V395.1M710.5 387.5V394.8M711.5 387.4V393.5M712.5 389.0V394.7M713.5 388.9V395.2M714.5 390.1V395.3M715.5 390.3V395.4M716.5 389.2V396.3M717.5 390.2V395.1M718.5 389.6V395.1M719.5 389.6V395.0M720.5 390.4V395.0M721.5 389.1V394.6M722.5 388.0V393.3M723.5 386.7V393.4M724.5 388.8V394.3M725.5 389.7V395.1M726.5 391.0V396.4M727.5 390.9V397.1M728.5 391.1V397.1M729.5 388.0V396.5M730.5 385.9V394.2M731.5 383.5V391.7M732.5 383.4V393.9M733.5 383.0V392.5M734.5 383.8V392.3M735.5 383.9V392.6M736.5 384.0V393.5M737.5 382.5V391.3M738.5 380.3V391.4M739.5 378.2V387.8M740.5 377.8V387.0M741.5 374.9V385.5M742.5 374.5V383.6M743.5 374.3V382.9M744.5 375.7V382.9M745.5 376.3V385.1M746.5 376.7V385.2M747.5 378.1V386.2M748.5 378.3V387.6M749.5 379.4V390.0M750.5 381.5V390.0M751.5 382.0V391.1M752.5 382.2V390.0M753.5 381.4V389.9M754.5 383.9V392.2M755.5 386.7V396.0M756.5 388.1V398.4M757.5 391.0V400.4M758.5 392.3V400.2M759.5 392.9V400.9M760.5 391.5V400.1M761.5 390.9V399.3M762.5 391.2V398.8M763.5 389.9V398.2M764.5 387.8V397.9M765.5 385.9V397.0M766.5 386.4V394.3M767.5 386.0V393.6M768.5 384.0V393.6M769.5 383.8V392.0M770.5 382.0V390.8M771.5 381.1V390.8M772.5 383.5V391.5M773.5 385.3V392.3M774.5 384.9V394.1M775.5 388.1V396.8M776.5 390.5V400.2M777.5 391.1V398.4M778.5 392.1V400.2M779.5 388.0V396.1M780.5 382.2V392.9M781.5 376.7V390.8M782.5 372.6V400.5M783.5 375.7V406.9M784.5 384.0V407.7M785.5 393.8V405.8M786.5 393.3V402.5M787.5 392.1V402.4M788.5 390.9V400.6M789.5 390.6V400.0M790.5 391.4V400.1M791.5 393.2V402.4M792.5 393.9V403.8M793.5 392.0V402.4M794.5 385.9V400.7M795.5 386.2V396.5M796.5 386.6V396.2M797.5 389.5V395.5M798.5 388.4V395.1M799.5 389.5V395.6M800.5 389.1V396.9M801.5 389.3V395.6M802.5 388.2V395.8M803.5 390.6V397.9M804.5 387.9V395.9M805.5 386.9V396.0M806.5 384.1V393.8M807.5 383.9V392.9M808.5 382.1V391.1M809.5 381.9V389.2M810.5 382.2V390.3M811.5 383.7V391.6M812.5 384.4V392.2M813.5 385.8V391.7M814.5 384.3V392.4M815.5 385.1V391.2M816.5 381.8V390.5M817.5 381.6V389.3M818.5 380.2V391.0M819.5 381.5V388.9M820.5 382.1V389.6M821.5 381.4V388.0M822.5 381.1V389.1M823.5 378.3V385.8M824.5 376.2V384.2M825.5 375.5V383.9M826.5 374.3V381.2M827.5 377.0V385.1M828.5 379.6V388.7M829.5 380.8V388.2M830.5 378.4V385.6M831.5 376.3V384.6M832.5 375.0V383.6M833.5 375.7V383.9M834.5 375.2V383.5M835.5 375.6V383.2M836.5 375.8V385.8M837.5 376.4V385.6M838.5 377.8V389.2M839.5 385.2V394.6M840.5 388.1V397.7M841.5 390.1V400.1M842.5 392.0V401.4M843.5 395.1V401.6M844.5 395.4V401.9M845.5 394.1V400.5M846.5 392.6V399.5M847.5 390.5V398.0M848.5 387.6V395.6M849.5 385.2V395.9M850.5 385.8V395.5M851.5 388.5V395.3M852.5 387.8V394.7M853.5 388.3V393.4M854.5 389.1V395.2M855.5 388.9V395.4M856.5 388.3V395.5M857.5 389.5V396.9M858.5 392.2V399.6M859.5 394.7V402.1M860.5 396.1V403.2M861.5 395.7V403.1M862.5 393.7V402.6M863.5 390.1V400.6M864.5 386.1V398.1M865.5 381.8V393.3M866.5 379.6V390.0M867.5 379.5V389.4M868.5 381.0V392.6M869.5 384.1V393.3M870.5 386.1V396.0M871.5 388.7V395.6M872.5 390.3V396.4M873.5 390.6V396.1M874.5 390.0V396.4M875.5 389.9V396.0M876.5 389.1V395.7M877.5 386.0V394.7M878.5 385.9V393.7M879.5 386.4V393.7M880.5 386.8V394.8M881.5 385.6V393.8M882.5 386.9V394.4M883.5 387.0V394.2M884.5 387.8V394.4M885.5 388.3V394.4M886.5 386.7V393.8M887.5 386.8V394.5M888.5 383.0V392.9M889.5 381.5V392.8M890.5 381.1V390.4M891.5 380.5V390.5M892.5 380.0V389.9M893.5 380.1V388.3M894.5 380.4V389.1M895.5 382.9V389.6M896.5 383.4V390.0M897.5 381.1V390.6M898.5 379.2V389.9M899.5 377.1V387.7M900.5 376.0V387.6M901.5 375.8V385.2M902.5 375.9V386.7M903.5 374.7V384.9M904.5 373.0V382.1M905.5 371.0V381.5M906.5 372.7V379.5M907.5 371.8V382.3M908.5 372.7V384.5M909.5 372.5V382.2M910.5 372.5V381.8M911.5 372.4V383.3M912.5 373.9V384.9M913.5 380.1V394.4M914.5 381.8V403.2M915.5 389.4V401.7M916.5 384.6V396.9M917.5 378.5V392.1M918.5 375.5V388.4M919.5 377.8V388.0M920.5 379.6V387.1M921.5 380.9V390.1M922.5 382.2V390.6M923.5 384.0V389.3M924.5 381.0V388.3M925.5 378.3V387.8M926.5 378.0V388.9M927.5 379.2V388.7M928.5 381.5V388.6M929.5 383.1V391.2M930.5 387.8V395.3M931.5 390.3V397.7M932.5 390.1V398.3M933.5 387.9V396.5M934.5 386.9V395.8M935.5 384.9V393.5M936.5 382.2V392.7M937.5 381.2V391.6M938.5 376.5V387.3M939.5 374.3V383.8M940.5 372.9V384.4M941.5 376.1V390.1M942.5 380.8V394.7M943.5 387.5V398.7M944.5 391.4V401.4M945.5 393.5V401.3M946.5 394.0V401.9M947.5 391.8V402.9M948.5 387.5V401.8M949.5 380.5V395.8M950.5 377.7V390.3M951.5 376.7V388.6M952.5 379.6V389.0M953.5 382.9V391.6M954.5 386.0V394.5M955.5 386.2V396.1M956.5 386.2V394.7M957.5 388.1V395.1M958.5 386.6V396.0M959.5 384.0V395.7M960.5 380.8V396.4M961.5 376.7V390.8M962.5 376.8V391.9M963.5 377.7V389.7M964.5 379.4V388.7M965.5 379.7V390.5M966.5 380.3V390.7M967.5 378.6V392.3M968.5 380.8V391.9M969.5 381.0V391.1" stroke="#1f77b4" stroke-width="1.10" fill="none" stroke-linejoin="round"/>
<path d="M125.48 379.1V390.9M145.37 389.8V380.8M179.23 361.3V391.6M202.27 405.9V399.7M211.46 384.6V391.8M229.97 392.8V382.5M236.28 370.2V377.2M242.99 363.0V381.6M252.04 394.9V387.9M265.82 413.1V390.5M269.38 422.3V397.8M271.03 405.2V397.4M296.12 405.9V396.2M315.32 410.7V387.9M318.06 405.5V384.4M322.45 389.4V384.3M335.75 373.0V394.8M335.75 399.0V394.8M339.31 367.1V384.1M341.92 369.5V381.9M347.54 340.1V385.8M379.49 379.1V399.5M400.80 430.6V387.0M412.87 375.7V388.9M445.64 399.0V388.4M457.98 411.8V401.3M464.15 410.7V400.3M485.40 428.2V389.3M496.78 401.1V388.4M504.05 375.0V396.5M513.24 410.9V399.1M548.67 408.6V401.5M561.01 401.1V391.7M570.06 400.0V384.8M588.85 408.9V394.5M603.93 405.9V396.3M623.13 401.8V396.0M632.45 410.7V396.8M637.11 402.7V392.9M665.36 412.0V387.2M685.71 416.6V396.5M698.46 376.4V386.0M707.65 398.3V393.2M717.93 408.3V392.7M747.14 388.0V382.2M751.94 393.5V386.5M775.25 377.1V392.4M778.95 428.8V396.1M780.32 377.8V387.5M784.03 354.2V395.9M794.72 385.7V393.3M808.16 370.9V386.6M834.68 385.3V379.3M885.83 399.7V391.4M908.45 397.0V378.6M914.48 428.8V392.5M919.97 394.9V382.9M962.00 405.9V383.7M967.76 373.4V385.5M429.50 485.5V402.8M732.50 458.9V388.6M733.50 458.0V387.8M891.50 318.0V385.5M892.50 318.5V385.0M904.50 328.1V377.5M867.50 369.5V384.4M868.50 369.0V386.8M879.50 369.0V390.1" stroke="#1f77b4" stroke-width="1.10" fill="none"/>
<path d="M125.48 379.1V390.9M145.37 389.8V380.8M179.23 361.3V391.6M202.27 405.9V399.7M211.46 384.6V391.8M229.97 392.8V382.5M236.28 370.2V377.2M242.99 363.0V381.6M252.04 394.9V387.9M265.82 413.1V390.5M269.38 422.3V397.8M271.03 405.2V397.4M296.12 405.9V396.2M315.32 410.7V387.9M318.06 405.5V384.4M322.45 389.4V384.3M335.75 373.0V394.8M335.75 399.0V394.8M339.31 367.1V384.1M341.92 369.5V381.9M347.54 340.1V385.8M379.49 379.1V399.5M400.80 430.6V387.0M412.87 375.7V388.9M445.64 399.0V388.4M457.98 411.8V401.3M464.15 410.7V400.3M485.40 428.2V389.3M496.78 401.1V388.4M504.05 375.0V396.5M513.24 410.9V399.1M548.67 408.6V401.5M561.01 401.1V391.7M570.06 400.0V384.8M588.85 408.9V394.5M603.93 405.9V396.3M623.13 401.8V396.0M632.45 410.7V396.8M637.11 402.7V392.9M665.36 412.0V387.2M685.71 416.6V396.5M698.46 376.4V386.0M707.65 398.3V393.2M717.93 408.3V392.7M747.14 388.0V382.2M751.94 393.5V386.5M775.25 377.1V392.4M778.95 428.8V396.1M780.32 377.8V387.5M784.03 354.2V395.9M794.72 385.7V393.3M808.16 370.9V386.6M834.68 385.3V379.3M885.83 399.7V391.4M908.45 397.0V378.6M914.48 428.8V392.5M919.97 394.9V382.9M962.00 405.9V383.7M967.76 373.4V385.5M429.50 485.5V402.8M732.50 458.9V388.6M733.50 458.0V387.8M891.50 318.0V385.5M892.50 318.5V385.0M904.50 328.1V377.5M867.50 369.5V384.4M868.50 369.0V386.8M879.50 369.0V390.1" stroke="#1f77b4" stroke-width="1.10" fill="none"/>
<path d="M124.5 494.5v4.86M208.5 494.5v4.86M293.5 494.5v4.86M377.5 494.5v4.86M462.5 494.5v4.86M547.5 494.5v4.86M631.5 494.5v4.86M716.5 494.5v4.86M800.5 494.5v4.86M885.5 494.5v4.86M969.5 494.5v4.86M82.5 485.5h-4.86M82.5 453.5h-4.86M82.5 421.5h-4.86M82.5 389.5h-4.86M82.5 357.5h-4.86M82.5 325.5h-4.86" stroke="#000" stroke-width="1.111" fill="none"/>
<rect x="82.5" y="310.5" width="930" height="184" stroke="#000" stroke-width="1.111" fill="none"/>
<path d="M124.5 558.5V742.5M208.5 558.5V742.5M293.5 558.5V742.5M377.5 558.5V742.5M462.5 558.5V742.5M547.5 558.5V742.5M631.5 558.5V742.5M716.5 558.5V742.5M800.5 558.5V742.5M885.5 558.5V742.5M969.5 558.5V742.5M82.5 726.5H1012.5M82.5 695.5H1012.5M82.5 664.5H1012.5M82.5 632.5H1012.5M82.5 601.5H1012.5M82.5 570.5H1012.5" stroke="#b0b0b0" stroke-width="1.111" fill="none"/>
<path d="M124.5 665.0V675.9M125.5 662.7V677.4M126.5 661.5V677.7M127.5 661.5V676.0M128.5 657.8V674.0M129.5 660.6V674.1M130.5 661.4V674.3M131.5 660.3V673.6M132.5 659.0V674.9M133.5 658.6V673.0M134.5 660.0V672.6M135.5 659.3V672.5M136.5 657.1V670.6M137.5 654.2V669.9M138.5 649.3V668.1M139.5 644.9V664.6M140.5 639.1V657.3M141.5 634.3V652.6M142.5 632.4V647.0M143.5 631.0V643.7M144.5 630.9V646.7M145.5 636.1V656.5M146.5 640.5V658.2M147.5 634.4V658.0M148.5 625.4V659.4M149.5 630.2V660.2M150.5 643.2V664.4M151.5 645.4V664.6M152.5 649.1V662.3M153.5 645.2V658.3M154.5 640.7V655.2M155.5 638.2V652.6M156.5 637.3V649.0M157.5 638.4V651.2M158.5 638.7V648.6M159.5 637.3V650.5M160.5 638.3V649.4M161.5 639.6V652.6M162.5 640.4V653.8M163.5 642.4V656.0M164.5 647.7V659.4M165.5 645.7V660.3M166.5 651.3V662.3M167.5 653.6V665.4M168.5 656.5V667.1M169.5 658.4V671.0M170.5 663.2V673.8M171.5 660.9V676.4M172.5 661.0V677.6M173.5 657.3V677.5M174.5 657.9V677.6M175.5 656.6V673.6M176.5 656.4V669.2M177.5 655.7V667.8M178.5 658.7V670.2M179.5 662.5V673.5M180.5 663.3V675.0M181.5 663.4V673.9M182.5 665.8V674.7M183.5 664.2V676.0M184.5 666.1V678.0M185.5 669.4V679.6M186.5 671.2V681.7M187.5 673.7V682.4M188.5 673.9V685.4M189.5 673.0V682.7M190.5 670.2V682.1M191.5 668.6V680.6M192.5 666.1V677.6M193.5 663.8V673.9M194.5 663.1V673.1M195.5 661.5V672.3M196.5 662.0V671.4M197.5 662.0V672.4M198.5 661.6V670.3M199.5 661.1V671.9M200.5 661.4V671.0M201.5 662.9V673.3M202.5 663.0V673.4M203.5 661.3V670.2M204.5 662.5V671.3M205.5 661.9V670.1M206.5 661.3V671.0M207.5 662.4V673.0M208.5 661.9V671.2M209.5 662.0V674.1M210.5 662.0V674.8M211.5 663.3V677.9M212.5 663.2V681.1M213.5 661.4V678.1M214.5 661.3V675.0M215.5 663.1V674.4M216.5 665.2V673.9M217.5 665.0V676.1M218.5 659.4V673.0M219.5 662.0V674.5M220.5 660.4V675.5M221.5 657.2V674.8M222.5 655.4V671.9M223.5 653.9V667.3M224.5 650.7V665.4M225.5 648.9V663.9M226.5 644.3V660.2M227.5 639.8V655.5M228.5 636.2V650.4M229.5 638.9V659.0M230.5 643.0V663.9M231.5 642.6V666.1M232.5 638.4V663.7M233.5 637.6V665.4M234.5 639.5V662.1M235.5 638.1V663.7M236.5 634.9V663.6M237.5 637.0V659.6M238.5 642.3V652.7M239.5 641.9V651.4M240.5 635.5V647.4M241.5 635.4V649.4M242.5 637.5V649.3M243.5 638.5V650.1M244.5 639.3V652.6M245.5 642.0V655.0M246.5 644.1V656.4M247.5 645.6V657.1M248.5 649.1V658.1M249.5 649.0V657.5M250.5 647.6V657.7M251.5 645.6V657.3M252.5 648.2V661.9M253.5 651.6V664.6M254.5 655.2V669.7M255.5 656.3V674.7M256.5 659.5V676.3M257.5 658.8V677.9M258.5 659.4V675.9M259.5 658.5V672.5M260.5 656.4V668.6M261.5 655.6V667.3M262.5 654.7V667.3M263.5 656.5V669.3M264.5 658.8V670.9M265.5 662.6V672.8M266.5 661.2V674.4M267.5 664.5V676.5M268.5 667.5V680.9M269.5 668.8V684.4M270.5 672.2V683.2M271.5 671.3V684.3M272.5 673.7V685.2M273.5 672.5V684.3M274.5 672.3V681.3M275.5 669.9V680.2M276.5 667.2V678.5M277.5 664.2V675.6M278.5 662.4V674.2M279.5 662.2V671.6M280.5 662.1V669.8M281.5 660.4V672.3M282.5 662.9V671.4M283.5 661.5V670.8M284.5 661.3V671.1M285.5 662.0V671.2M286.5 662.4V673.2M287.5 663.1V671.3M288.5 659.5V671.5M289.5 658.1V669.2M290.5 659.3V669.3M291.5 662.2V673.6M292.5 661.6V672.3M293.5 661.9V671.9M294.5 662.7V673.2M295.5 659.9V674.1M296.5 656.7V674.4M297.5 656.8V675.3M298.5 658.2V674.9M299.5 658.8V673.8M300.5 662.3V674.0M301.5 664.1V672.4M302.5 664.3V674.4M303.5 661.7V673.6M304.5 663.4V673.2M305.5 662.3V671.5M306.5 660.3V671.0M307.5 658.8V673.0M308.5 658.0V668.7M309.5 654.9V668.6M310.5 652.7V668.1M311.5 650.1V665.9M312.5 643.6V659.9M313.5 641.5V656.3M314.5 635.5V654.0M315.5 630.0V652.7M316.5 625.7V651.1M317.5 624.9V649.1M318.5 628.1V653.8M319.5 630.9V657.5M320.5 637.5V658.1M321.5 640.4V657.7M322.5 642.1V655.2M323.5 641.6V653.7M324.5 636.7V650.6M325.5 636.4V646.3M326.5 636.5V644.6M327.5 635.3V643.6M328.5 634.2V647.1M329.5 635.4V644.6M330.5 636.5V647.0M331.5 637.4V650.1M332.5 639.7V651.4M333.5 639.4V654.7M334.5 641.8V658.6M335.5 647.2V674.8M336.5 653.8V677.6M337.5 661.0V674.4M338.5 648.7V670.2M339.5 637.0V665.3M340.5 640.9V661.6M341.5 647.9V663.8M342.5 655.2V668.8M343.5 657.2V669.9M344.5 658.0V670.8M345.5 658.1V667.3M346.5 656.9V669.9M347.5 657.0V666.5M348.5 659.1V668.8M349.5 657.3V668.6M350.5 656.4V668.3M351.5 656.2V669.7M352.5 655.2V667.9M353.5 657.9V670.7M354.5 662.4V670.4M355.5 664.0V675.0M356.5 666.1V676.0M357.5 665.9V675.9M358.5 664.5V675.6M359.5 663.3V674.1M360.5 661.0V670.9M361.5 660.2V669.0M362.5 657.5V668.9M363.5 656.5V667.7M364.5 655.6V664.9M365.5 655.4V665.0M366.5 655.2V664.9M367.5 656.9V666.5M368.5 657.2V665.9M369.5 656.8V667.7M370.5 656.1V665.8M371.5 657.4V666.7M372.5 657.3V666.8M373.5 658.3V669.2M374.5 658.4V667.5M375.5 656.5V667.5M376.5 658.2V670.1M377.5 656.5V668.8M378.5 655.7V669.0M379.5 654.5V670.5M380.5 657.2V669.9M381.5 655.8V668.3M382.5 654.5V667.9M383.5 654.3V665.1M384.5 653.4V665.9M385.5 654.3V670.3M386.5 657.4V670.3M387.5 660.1V671.0M388.5 658.2V670.8M389.5 660.8V670.1M390.5 657.9V670.6M391.5 656.8V669.2M392.5 657.4V667.9M393.5 656.6V667.2M394.5 653.5V666.0M395.5 645.2V661.2M396.5 643.8V658.9M397.5 643.3V659.6M398.5 643.8V656.3M399.5 642.0V656.1M400.5 638.5V665.4M401.5 640.0V669.6M402.5 638.5V671.0M403.5 639.1V669.0M404.5 640.3V665.2M405.5 643.5V664.8M406.5 646.6V663.4M407.5 647.1V658.3M408.5 643.3V654.6M409.5 640.4V650.0M410.5 641.3V649.0M411.5 640.7V648.6M412.5 638.8V650.8M413.5 634.3V646.3M414.5 632.9V643.7M415.5 633.3V645.5M416.5 635.9V645.6M417.5 639.7V652.3M418.5 642.2V654.3M419.5 645.4V657.4M420.5 649.0V658.5M421.5 650.4V660.6M422.5 651.5V662.2M423.5 653.4V667.2M424.5 653.4V671.1M425.5 655.5V671.5M426.5 653.8V671.4M427.5 649.9V672.3M428.5 648.2V668.2M429.5 648.8V665.8M430.5 649.1V663.3M431.5 652.8V664.1M432.5 654.7V665.4M433.5 656.1V666.4M434.5 656.3V667.1M435.5 658.0V668.0M436.5 659.6V670.7M437.5 663.9V674.9M438.5 667.7V677.9M439.5 670.0V679.8M440.5 672.5V682.6M441.5 673.3V684.0M442.5 671.5V683.8M443.5 670.8V681.6M444.5 668.5V679.2M445.5 665.7V676.9M446.5 665.8V674.7M447.5 665.4V674.7M448.5 666.3V675.2M449.5 666.1V677.6M450.5 665.6V676.9M451.5 664.7V674.9M452.5 665.3V674.5M453.5 663.6V672.9M454.5 663.8V674.0M455.5 660.7V672.1M456.5 659.9V671.0M457.5 656.6V669.5M458.5 655.8V667.2M459.5 657.8V667.9M460.5 659.1V669.8M461.5 660.1V671.8M462.5 658.5V671.4M463.5 654.8V673.1M464.5 653.1V671.7M465.5 652.7V668.6M466.5 654.7V669.3M467.5 653.8V669.0M468.5 655.4V669.4M469.5 655.7V666.6M470.5 654.7V671.8M471.5 658.7V670.9M472.5 661.0V671.0M473.5 659.9V669.3M474.5 660.7V669.3M475.5 659.3V669.1M476.5 657.7V668.7M477.5 657.8V667.6M478.5 654.1V666.6M479.5 651.1V662.4M480.5 645.2V659.8M481.5 643.8V654.5M482.5 643.7V654.6M483.5 642.4V655.2M484.5 642.6V657.5M485.5 644.0V669.2M486.5 645.9V671.5M487.5 647.1V670.0M488.5 654.4V666.8M489.5 652.6V665.0M490.5 653.6V666.2M491.5 649.5V661.7M492.5 642.4V657.5M493.5 639.2V653.3M494.5 638.4V648.2M495.5 637.2V648.3M496.5 635.1V650.5M497.5 634.7V650.3M498.5 635.4V650.7M499.5 640.4V652.3M500.5 643.7V655.1M501.5 648.9V659.2M502.5 649.9V662.3M503.5 650.4V663.8M504.5 651.3V661.7M505.5 650.6V661.1M506.5 651.4V662.9M507.5 654.2V664.9M508.5 658.2V669.2M509.5 658.5V672.5M510.5 649.7V672.8M511.5 651.0V672.5M512.5 655.2V672.7M513.5 652.8V671.7M514.5 646.9V665.2M515.5 645.5V658.3M516.5 646.9V655.7M517.5 649.3V658.3M518.5 649.7V661.4M519.5 649.6V662.4M520.5 651.6V663.4M521.5 654.6V666.7M522.5 659.4V671.1M523.5 666.2V677.7M524.5 669.1V679.3M525.5 670.1V680.3M526.5 669.0V678.3M527.5 664.6V678.0M528.5 663.2V673.3M529.5 660.1V670.9M530.5 659.2V668.9M531.5 658.5V669.2M532.5 657.9V667.2M533.5 658.8V667.8M534.5 659.8V669.5M535.5 656.8V667.2M536.5 655.7V667.1M537.5 655.5V664.7M538.5 654.1V665.4M539.5 654.0V665.7M540.5 654.7V668.6M541.5 658.5V669.2M542.5 659.5V671.0M543.5 660.8V672.3M544.5 656.5V671.8M545.5 655.2V670.1M546.5 651.1V666.0M547.5 644.2V659.8M548.5 633.0V659.0M549.5 635.6V658.1M550.5 637.7V661.0M551.5 646.2V662.0M552.5 645.9V661.1M553.5 646.8V665.8M554.5 645.9V664.3M555.5 649.3V665.2M556.5 652.0V665.6M557.5 650.9V668.1M558.5 653.9V667.8M559.5 652.1V667.8M560.5 654.9V665.5M561.5 652.9V663.7M562.5 654.1V664.1M563.5 652.9V667.9M564.5 653.1V665.4M565.5 652.7V663.2M566.5 652.1V664.1M567.5 650.1V662.0M568.5 645.9V660.6M569.5 643.6V662.6M570.5 652.2V686.7M571.5 658.4V684.5M572.5 659.2V680.1M573.5 658.2V675.9M574.5 656.1V678.1M575.5 652.6V670.0M576.5 650.9V666.9M577.5 655.5V666.8M578.5 653.7V665.2M579.5 654.6V664.9M580.5 649.8V664.0M581.5 648.6V664.0M582.5 650.5V662.6M583.5 649.2V659.1M584.5 648.4V659.2M585.5 651.0V660.3M586.5 655.7V667.1M587.5 659.9V669.5M588.5 659.3V669.9M589.5 662.1V671.7M590.5 663.4V673.3M591.5 664.1V676.5M592.5 667.7V679.0M593.5 664.8V678.3M594.5 662.3V678.2M595.5 661.1V676.4M596.5 658.6V672.3M597.5 655.8V666.1M598.5 652.4V666.6M599.5 651.0V662.8M600.5 650.9V662.5M601.5 652.5V661.4M602.5 654.1V664.4M603.5 656.3V665.6M604.5 657.2V667.8M605.5 658.7V669.9M606.5 662.2V676.1M607.5 668.2V681.8M608.5 672.2V685.9M609.5 678.8V689.2M610.5 684.1V690.3M611.5 678.9V688.2M612.5 673.2V684.2M613.5 670.4V683.3M614.5 670.6V680.9M615.5 672.9V681.1M616.5 675.0V684.4M617.5 674.7V684.4M618.5 676.0V686.2M619.5 678.6V688.8M620.5 676.5V689.5M621.5 676.6V687.9M622.5 676.2V686.4M623.5 672.9V683.6M624.5 671.0V681.7M625.5 670.4V679.9M626.5 668.3V678.5M627.5 668.0V676.4M628.5 665.3V677.4M629.5 663.4V674.9M630.5 662.8V673.9M631.5 660.9V673.6M632.5 656.5V671.4M633.5 653.8V670.3M634.5 654.3V670.5M635.5 656.7V670.0M636.5 661.9V672.2M637.5 661.2V674.5M638.5 659.1V668.7M639.5 660.3V671.1M640.5 660.2V673.5M641.5 661.5V672.8M642.5 660.7V669.9M643.5 658.8V670.1M644.5 656.8V670.5M645.5 659.5V670.3M646.5 655.7V669.4M647.5 656.1V668.2M648.5 652.3V667.5M649.5 650.7V662.6M650.5 648.1V659.9M651.5 650.1V661.4M652.5 648.6V664.4M653.5 648.8V664.4M654.5 649.5V673.2M655.5 652.8V677.0M656.5 660.8V682.1M657.5 665.7V684.5M658.5 670.2V684.2M659.5 672.5V684.5M660.5 668.8V682.3M661.5 667.9V678.7M662.5 666.8V676.7M663.5 664.6V677.0M664.5 663.4V677.5M665.5 661.1V678.6M666.5 661.5V675.6M667.5 661.3V673.7M668.5 662.2V672.4M669.5 660.8V673.5M670.5 664.3V676.6M671.5 665.4V678.3M672.5 665.2V676.9M673.5 665.1V676.7M674.5 667.0V678.7M675.5 668.0V679.0M676.5 665.1V682.2M677.5 663.0V683.2M678.5 659.9V677.9M679.5 663.8V679.2M680.5 665.1V678.5M681.5 663.4V679.7M682.5 662.1V674.7M683.5 659.2V673.0M684.5 660.3V672.8M685.5 660.4V671.1M686.5 660.1V674.2M687.5 662.3V672.1M688.5 662.4V671.6M689.5 661.9V670.9M690.5 661.8V673.9M691.5 665.5V678.2M692.5 668.3V685.1M693.5 672.6V686.9M694.5 677.1V687.6M695.5 675.5V686.8M696.5 675.1V686.1M697.5 676.0V687.5M698.5 672.2V686.0M699.5 670.5V684.6M700.5 672.6V684.4M701.5 673.8V684.6M702.5 674.6V687.3M703.5 677.6V687.9M704.5 677.8V687.2M705.5 676.0V686.4M706.5 675.2V686.0M707.5 674.2V685.0M708.5 673.5V683.5M709.5 669.0V680.6M710.5 667.7V680.4M711.5 667.3V679.5M712.5 669.2V680.0M713.5 669.0V679.3M714.5 668.4V680.2M715.5 667.1V679.1M716.5 663.4V679.1M717.5 659.5V678.0M718.5 654.4V678.9M719.5 656.7V675.9M720.5 661.8V674.6M721.5 662.0V675.6M722.5 662.3V673.7M723.5 662.1V677.0M724.5 658.4V676.1M725.5 657.8V674.5M726.5 655.4V671.0M727.5 654.6V667.6M728.5 651.7V661.5M729.5 651.9V663.4M730.5 651.5V664.0M731.5 651.1V664.4M732.5 651.6V662.0M733.5 651.2V663.1M734.5 648.7V662.2M735.5 649.5V662.6M736.5 649.3V666.3M737.5 651.5V668.3M738.5 653.7V679.3M739.5 655.4V684.6M740.5 661.0V685.9M741.5 665.6V684.8M742.5 665.5V684.6M743.5 669.1V682.2M744.5 666.9V680.6M745.5 664.1V676.3M746.5 665.6V674.8M747.5 665.6V677.1M748.5 667.0V675.5M749.5 663.8V675.5M750.5 662.9V676.9M751.5 658.8V672.5M752.5 657.1V671.3M753.5 657.2V671.5M754.5 658.6V675.5M755.5 664.3V686.5M756.5 661.5V689.3M757.5 667.2V688.6M758.5 666.3V679.0M759.5 666.4V677.8M760.5 667.2V679.8M761.5 668.2V681.0M762.5 664.3V681.1M763.5 662.1V680.4M764.5 660.3V678.0M765.5 661.9V674.3M766.5 664.9V674.5M767.5 663.0V676.3M768.5 664.3V673.5M769.5 661.9V674.5M770.5 657.8V672.3M771.5 659.0V670.5M772.5 659.5V669.5M773.5 656.4V668.9M774.5 654.9V669.4M775.5 657.7V675.0M776.5 666.4V680.3M777.5 667.6V680.8M778.5 667.4V680.9M779.5 669.9V682.3M780.5 669.8V681.5M781.5 664.1V680.1M782.5 659.1V685.1M783.5 662.9V687.6M784.5 659.3V682.3M785.5 657.3V681.3M786.5 659.1V681.2M787.5 664.3V677.6M788.5 667.7V683.7M789.5 669.0V682.9M790.5 666.7V682.0M791.5 664.6V679.0M792.5 662.7V677.9M793.5 661.8V679.7M794.5 663.9V677.6M795.5 660.6V675.6M796.5 657.2V671.3M797.5 661.1V673.0M798.5 663.5V673.8M799.5 665.0V675.1M800.5 663.6V675.1M801.5 660.4V674.0M802.5 659.2V671.6M803.5 657.3V671.1M804.5 656.4V670.3M805.5 654.5V669.1M806.5 653.7V665.9M807.5 652.7V667.2M808.5 654.0V664.2M809.5 656.0V664.4M810.5 652.2V665.0M811.5 650.4V664.6M812.5 649.0V661.3M813.5 646.1V657.8M814.5 644.1V657.2M815.5 643.2V656.6M816.5 639.8V654.9M817.5 637.7V651.4M818.5 636.9V648.4M819.5 636.6V648.7M820.5 633.6V646.9M821.5 629.2V650.1M822.5 629.2V669.9M823.5 652.9V677.2M824.5 646.9V675.4M825.5 654.5V674.8M826.5 654.5V672.5M827.5 660.7V672.7M828.5 663.3V671.9M829.5 664.4V672.5M830.5 664.6V673.5M831.5 664.4V671.1M832.5 663.1V671.2M833.5 663.3V672.1M834.5 662.7V671.4M835.5 662.0V671.1M836.5 661.7V671.8M837.5 662.4V674.5M838.5 664.8V679.0M839.5 668.7V680.0M840.5 670.4V679.9M841.5 670.9V680.4M842.5 668.8V680.3M843.5 667.5V679.0M844.5 663.5V678.0M845.5 660.2V677.1M846.5 658.4V673.1M847.5 662.9V675.1M848.5 664.5V673.6M849.5 664.0V672.2M850.5 663.4V671.2M851.5 662.7V673.2M852.5 665.6V674.1M853.5 665.4V674.8M854.5 666.2V677.0M855.5 663.6V677.0M856.5 664.2V674.4M857.5 662.5V672.6M858.5 661.5V672.7M859.5 666.3V677.5M860.5 668.3V679.2M861.5 672.9V682.1M862.5 673.1V683.5M863.5 672.8V682.4M864.5 671.9V679.5M865.5 670.5V678.5M866.5 667.7V680.4M867.5 669.1V678.1M868.5 666.2V677.1M869.5 665.3V675.2M870.5 664.6V673.5M871.5 664.6V678.1M872.5 667.7V680.4M873.5 669.1V680.9M874.5 667.8V681.5M875.5 670.1V679.0M876.5 668.9V679.1M877.5 665.8V678.3M878.5 665.6V675.0M879.5 665.6V676.6M880.5 663.4V673.4M881.5 661.7V673.2M882.5 659.1V671.2M883.5 661.1V676.3M884.5 660.9V673.3M885.5 651.1V668.0M886.5 646.2V668.3M887.5 646.9V667.2M888.5 649.8V667.5M889.5 648.3V665.6M890.5 650.8V664.2M891.5 652.8V664.6M892.5 653.1V667.9M893.5 654.0V667.4M894.5 654.3V667.2M895.5 652.3V665.2M896.5 646.2V660.9M897.5 641.7V656.5M898.5 640.7V651.6M899.5 639.1V651.9M900.5 633.2V648.0M901.5 629.8V644.4M902.5 627.2V641.0M903.5 624.6V636.1M904.5 624.3V635.2M905.5 621.7V635.6M906.5 620.8V632.6M907.5 618.5V632.1M908.5 620.4V635.4M909.5 623.0V635.4M910.5 624.2V637.7M911.5 626.7V641.4M912.5 631.4V644.8M913.5 639.2V652.8M914.5 642.0V656.8M915.5 644.8V657.6M916.5 644.4V656.8M917.5 646.5V657.7M918.5 648.7V660.3M919.5 650.1V661.0M920.5 653.1V666.3M921.5 656.1V670.8M922.5 659.4V673.6M923.5 663.4V677.5M924.5 667.9V681.9M925.5 673.6V686.3M926.5 677.6V688.5M927.5 679.0V687.2M928.5 673.2V684.5M929.5 664.2V680.9M930.5 663.9V681.0M931.5 662.1V681.1M932.5 665.8V681.7M933.5 665.6V678.1M934.5 661.2V675.1M935.5 661.2V676.7M936.5 666.2V680.7M937.5 670.0V680.3M938.5 670.0V680.6M939.5 668.9V677.7M940.5 664.2V674.9M941.5 661.7V672.3M942.5 663.4V674.6M943.5 666.5V676.0M944.5 669.8V680.3M945.5 669.5V680.4M946.5 668.9V682.6M947.5 667.8V685.6M948.5 668.5V683.2M949.5 667.7V679.6M950.5 665.7V678.2M951.5 665.2V677.0M952.5 668.1V677.6M953.5 667.2V678.1M954.5 670.4V678.1M955.5 669.0V681.1M956.5 666.8V679.0M957.5 665.6V676.0M958.5 661.0V676.4M959.5 661.1V677.3M960.5 664.7V677.5M961.5 664.7V679.0M962.5 662.6V675.5M963.5 661.3V674.8M964.5 657.0V673.3M965.5 659.3V674.1M966.5 660.9V676.0M967.5 661.4V679.9M968.5 661.3V683.3M969.5 664.2V682.3" stroke="#1f77b4" stroke-width="1.10" fill="none" stroke-linejoin="round"/>
<path d="M125.48 693.4V670.0M137.14 638.4V662.1M145.37 670.3V646.3M150.85 672.8V653.8M172.79 654.6V669.3M180.33 678.6V669.1M205.70 659.4V666.0M212.14 693.0V672.2M229.69 672.4V649.0M232.16 674.4V651.0M243.41 657.3V644.3M257.53 644.3V668.3M257.80 679.2V668.3M269.38 703.7V676.6M282.68 677.2V667.2M284.33 658.0V666.2M286.11 675.8V667.8M293.38 678.6V666.9M296.12 638.1V665.5M304.62 677.9V668.3M315.32 677.2V641.4M319.98 665.5V644.2M328.34 649.8V640.7M335.75 693.6V661.0M339.59 636.1V651.2M347.54 648.4V661.8M370.71 671.7V661.0M373.86 672.4V663.7M379.08 701.6V662.5M380.99 679.2V663.6M400.39 628.5V652.0M401.21 716.7V654.8M404.50 674.4V652.7M412.45 664.8V644.8M424.11 642.2V662.2M428.50 703.2V658.2M433.02 671.7V661.2M445.36 656.6V671.3M454.28 677.2V668.9M463.87 642.2V664.0M465.93 673.1V660.6M473.88 673.8V664.6M482.66 662.1V649.1M487.59 633.0V658.6M496.51 624.4V642.8M504.05 690.6V656.5M510.08 645.0V661.3M513.51 690.6V662.2M516.94 662.8V651.3M564.44 670.3V659.2M575.82 642.2V661.3M580.62 666.2V656.9M588.57 622.1V664.6M588.98 622.3V664.6M593.92 648.8V671.6M623.40 687.5V678.3M632.72 633.7V663.9M639.17 657.3V665.7M642.05 677.2V665.3M665.36 640.9V669.8M668.79 657.3V667.3M707.65 688.8V679.6M718.21 635.4V666.7M739.46 685.1V670.0M751.80 634.4V665.6M757.29 701.6V677.9M763.59 684.7V671.2M769.08 678.6V668.2M775.25 642.9V666.3M780.32 688.2V675.7M781.69 658.0V672.1M783.75 692.0V675.2M785.12 653.2V669.3M790.20 685.4V674.3M792.94 655.2V670.3M799.93 678.6V670.1M807.75 681.6V660.0M834.96 657.3V667.0M842.91 695.3V674.5M867.86 694.7V673.6M875.82 682.0V674.5M879.52 685.4V671.1M882.26 656.6V665.1M886.10 642.9V657.3M888.57 671.7V658.7M905.57 640.2V628.6M914.90 662.8V649.4M919.69 634.0V655.5M922.16 712.2V666.5M929.02 659.4V672.6M944.38 687.5V675.0M947.46 660.5V676.7M962.00 681.3V671.8M967.48 684.0V670.6M317.50 605.5V637.0M318.50 606.5V640.9M429.50 572.5V657.3M430.50 579.0V656.2M485.50 720.4V656.6M570.50 729.6V669.4M732.50 733.1V656.8M733.50 732.0V657.2M891.50 721.7V658.7M892.50 720.5V660.5M904.50 565.8V629.7M908.50 595.0V627.9" stroke="#1f77b4" stroke-width="1.10" fill="none"/>
<path d="M125.48 693.4V670.0M137.14 638.4V662.1M145.37 670.3V646.3M150.85 672.8V653.8M172.79 654.6V669.3M180.33 678.6V669.1M205.70 659.4V666.0M212.14 693.0V672.2M229.69 672.4V649.0M232.16 674.4V651.0M243.41 657.3V644.3M257.53 644.3V668.3M257.80 679.2V668.3M269.38 703.7V676.6M282.68 677.2V667.2M284.33 658.0V666.2M286.11 675.8V667.8M293.38 678.6V666.9M296.12 638.1V665.5M304.62 677.9V668.3M315.32 677.2V641.4M319.98 665.5V644.2M328.34 649.8V640.7M335.75 693.6V661.0M339.59 636.1V651.2M347.54 648.4V661.8M370.71 671.7V661.0M373.86 672.4V663.7M379.08 701.6V662.5M380.99 679.2V663.6M400.39 628.5V652.0M401.21 716.7V654.8M404.50 674.4V652.7M412.45 664.8V644.8M424.11 642.2V662.2M428.50 703.2V658.2M433.02 671.7V661.2M445.36 656.6V671.3M454.28 677.2V668.9M463.87 642.2V664.0M465.93 673.1V660.6M473.88 673.8V664.6M482.66 662.1V649.1M487.59 633.0V658.6M496.51 624.4V642.8M504.05 690.6V656.5M510.08 645.0V661.3M513.51 690.6V662.2M516.94 662.8V651.3M564.44 670.3V659.2M575.82 642.2V661.3M580.62 666.2V656.9M588.57 622.1V664.6M588.98 622.3V664.6M593.92 648.8V671.6M623.40 687.5V678.3M632.72 633.7V663.9M639.17 657.3V665.7M642.05 677.2V665.3M665.36 640.9V669.8M668.79 657.3V667.3M707.65 688.8V679.6M718.21 635.4V666.7M739.46 685.1V670.0M751.80 634.4V665.6M757.29 701.6V677.9M763.59 684.7V671.2M769.08 678.6V668.2M775.25 642.9V666.3M780.32 688.2V675.7M781.69 658.0V672.1M783.75 692.0V675.2M785.12 653.2V669.3M790.20 685.4V674.3M792.94 655.2V670.3M799.93 678.6V670.1M807.75 681.6V660.0M834.96 657.3V667.0M842.91 695.3V674.5M867.86 694.7V673.6M875.82 682.0V674.5M879.52 685.4V671.1M882.26 656.6V665.1M886.10 642.9V657.3M888.57 671.7V658.7M905.57 640.2V628.6M914.90 662.8V649.4M919.69 634.0V655.5M922.16 712.2V666.5M929.02 659.4V672.6M944.38 687.5V675.0M947.46 660.5V676.7M962.00 681.3V671.8M967.48 684.0V670.6M317.50 605.5V637.0M318.50 606.5V640.9M429.50 572.5V657.3M430.50 579.0V656.2M485.50 720.4V656.6M570.50 729.6V669.4M732.50 733.1V656.8M733.50 732.0V657.2M891.50 721.7V658.7M892.50 720.5V660.5M904.50 565.8V629.7M908.50 595.0V627.9" stroke="#1f77b4" stroke-width="1.10" fill="none"/>
<path d="M124.5 742.5v4.86M208.5 742.5v4.86M293.5 742.5v4.86M377.5 742.5v4.86M462.5 742.5v4.86M547.5 742.5v4.86M631.5 742.5v4.86M716.5 742.5v4.86M800.5 742.5v4.86M885.5 742.5v4.86M969.5 742.5v4.86M82.5 726.5h-4.86M82.5 695.5h-4.86M82.5 664.5h-4.86M82.5 632.5h-4.86M82.5 601.5h-4.86M82.5 570.5h-4.86" stroke="#000" stroke-width="1.111" fill="none"/>
<rect x="82.5" y="558.5" width="930" height="184" stroke="#000" stroke-width="1.111" fill="none"/>
<g fill="#000" stroke="none" font-family="&quot;Liberation Sans&quot;, sans-serif">
<text x="532" y="23.93" font-size="16.67" text-anchor="middle">P208.PW.LY_.00</text>
<text x="547" y="53.92" font-size="16.67" text-anchor="middle">East displacement</text>
<text x="29.85" y="155.8" font-size="13.89" text-anchor="middle" transform="rotate(-90 29.85 155.8)">Disp.</text>
<text x="72.2" y="244.99" font-size="13.89" text-anchor="end">−0.2</text>
<text x="72.2" y="209.24" font-size="13.89" text-anchor="end">−0.1</text>
<text x="72.2" y="173.5" font-size="13.89" text-anchor="end">0.0</text>
<text x="72.2" y="137.75" font-size="13.89" text-anchor="end">0.1</text>
<text x="72.2" y="102" font-size="13.89" text-anchor="end">0.2</text>
<text x="547" y="301.92" font-size="16.67" text-anchor="middle">North displacement</text>
<text x="29.7" y="404.4" font-size="13.89" text-anchor="middle" transform="rotate(-90 29.7 404.4)">Disp.</text>
<text x="72.2" y="491" font-size="13.89" text-anchor="end">−0.6</text>
<text x="72.2" y="459" font-size="13.89" text-anchor="end">−0.4</text>
<text x="72.2" y="427" font-size="13.89" text-anchor="end">−0.2</text>
<text x="72.2" y="395" font-size="13.89" text-anchor="end">0.0</text>
<text x="72.2" y="363" font-size="13.89" text-anchor="end">0.2</text>
<text x="72.2" y="331" font-size="13.89" text-anchor="end">0.4</text>
<text x="547" y="549.92" font-size="16.67" text-anchor="middle">Up displacement</text>
<text x="20.92" y="652.9" font-size="13.89" text-anchor="middle" transform="rotate(-90 20.92 652.9)">Disp.</text>
<text x="546" y="782.53" font-size="13.89" text-anchor="middle">Time (UTC)</text>
<text x="72.2" y="732" font-size="13.89" text-anchor="end">−0.50</text>
<text x="72.2" y="700.8" font-size="13.89" text-anchor="end">−0.25</text>
<text x="72.2" y="669.6" font-size="13.89" text-anchor="end">0.00</text>
<text x="72.2" y="638.4" font-size="13.89" text-anchor="end">0.25</text>
<text x="72.2" y="607.2" font-size="13.89" text-anchor="end">0.50</text>
<text x="72.2" y="576.01" font-size="13.89" text-anchor="end">0.75</text>
<text x="124" y="762.97" font-size="13.89" text-anchor="middle">2024-12-03</text>
<text x="208.5" y="762.97" font-size="13.89" text-anchor="middle">2024-12-04</text>
<text x="293" y="762.97" font-size="13.89" text-anchor="middle">2024-12-05</text>
<text x="377.5" y="762.97" font-size="13.89" text-anchor="middle">2024-12-06</text>
<text x="462" y="762.97" font-size="13.89" text-anchor="middle">2024-12-07</text>
<text x="546.5" y="762.97" font-size="13.89" text-anchor="middle">2024-12-08</text>
<text x="631" y="762.97" font-size="13.89" text-anchor="middle">2024-12-09</text>
<text x="715.5" y="762.97" font-size="13.89" text-anchor="middle">2024-12-10</text>
<text x="800" y="762.97" font-size="13.89" text-anchor="middle">2024-12-11</text>
<text x="884.5" y="762.97" font-size="13.89" text-anchor="middle">2024-12-12</text>
<text x="969" y="762.97" font-size="13.89" text-anchor="middle">2024-12-13</text>
</g>
</svg>
</body></html>
